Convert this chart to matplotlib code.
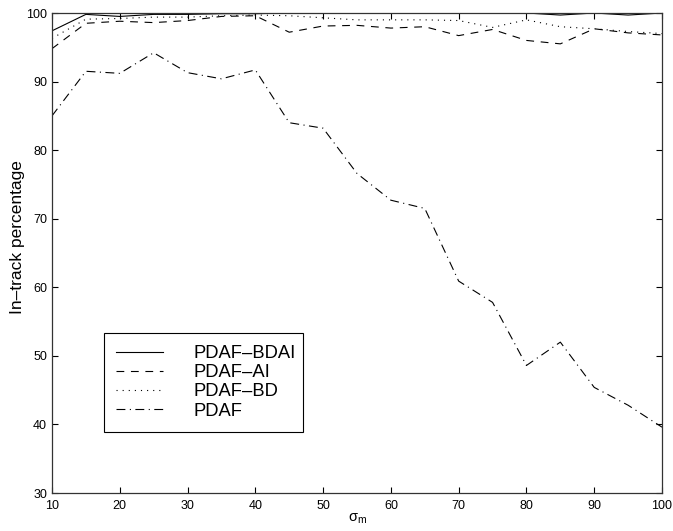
import matplotlib
matplotlib.use("Agg")
import matplotlib.pyplot as plt

plt.rcParams['font.family'] = ['Liberation Sans', 'DejaVu Sans']
plt.rcParams['mathtext.fontset'] = 'custom'
plt.rcParams['mathtext.rm'] = 'Liberation Sans'
plt.rcParams['mathtext.it'] = 'Liberation Sans'
plt.rcParams['mathtext.sf'] = 'Liberation Sans'

sigma_m = [10, 15, 20, 25, 30, 35, 40, 45, 50, 55, 60, 65, 70, 75, 80, 85, 90, 95, 100]

pdaf_bdai = [97.4, 99.8, 99.5, 99.8, 99.8, 99.9, 99.9, 100, 100, 100, 100, 100,
             100, 100, 100, 99.7, 100, 99.7, 100]
pdaf_ai = [94.8, 98.5, 98.8, 98.6, 98.9, 99.5, 99.6, 97.2, 98.1, 98.2, 97.8, 98.0,
           96.7, 97.6, 96.0, 95.5, 97.7, 97.1, 96.8]
pdaf_bd = [96.3, 99.1, 99.2, 99.4, 99.4, 99.6, 99.7, 99.6, 99.3, 99.0, 99.0, 99.0,
           98.9, 97.9, 99.0, 98.0, 97.7, 97.3, 97.0]
pdaf = [85.0, 91.5, 91.2, 94.2, 91.3, 90.4, 91.7, 84.0, 83.2, 76.6, 72.7, 71.5,
        60.9, 57.8, 48.6, 52.0, 45.4, 42.8, 39.6]

labels = ['PDAF\u2013BDAI', 'PDAF\u2013AI', 'PDAF\u2013BD', 'PDAF']
xticks = [10, 20, 30, 40, 50, 60, 70, 80, 90, 100]
yticks = [30, 40, 50, 60, 70, 80, 90, 100]

fig = plt.figure(figsize=(6.73, 5.31), dpi=100)
ax = fig.add_axes([52/673, 38/531, 610/673, 480/531])

lw = 0.8
ax.plot(sigma_m, pdaf_bdai, color='black', lw=lw, linestyle='-', label=labels[0])
ax.plot(sigma_m, pdaf_ai, color='black', lw=lw, linestyle=(0, (7, 6)), label=labels[1])
ax.plot(sigma_m, pdaf_bd, color='black', lw=lw, linestyle=(0, (1, 4.5)), label=labels[2])
ax.plot(sigma_m, pdaf, color='black', lw=lw, linestyle=(0, (8, 4, 1, 4)), label=labels[3])

ax.set_xlim(10, 100)
ax.set_ylim(30, 100)
ax.set_xticks(xticks)
ax.set_yticks(yticks)
ax.tick_params(direction='in', top=True, right=True, length=4.5, width=0.8,
               labelsize=9)
ax.tick_params(axis='x', pad=5)
ax.tick_params(axis='y', pad=3.5)
for s in ax.spines.values():
    s.set_linewidth(0.9)
    s.set_color('#333333')

ax.set_ylabel('In\u2013track percentage', fontsize=12.5)
ax.yaxis.set_label_coords(-0.045, 0.533)
ax.set_xlabel(r'$\sigma_{\rm m}$', fontsize=10.5, labelpad=0)

leg = ax.legend(loc='upper left', bbox_to_anchor=(0.085, 0.125, 0.326, 0.208),
                mode='expand', fontsize=13.2, frameon=True, fancybox=False,
                edgecolor='black', framealpha=1, borderpad=0.65,
                handlelength=2.6, handletextpad=1.65, labelspacing=0.12,
                borderaxespad=0)
leg.get_frame().set_linewidth(0.8)

fig.savefig('out.png', dpi=100)
